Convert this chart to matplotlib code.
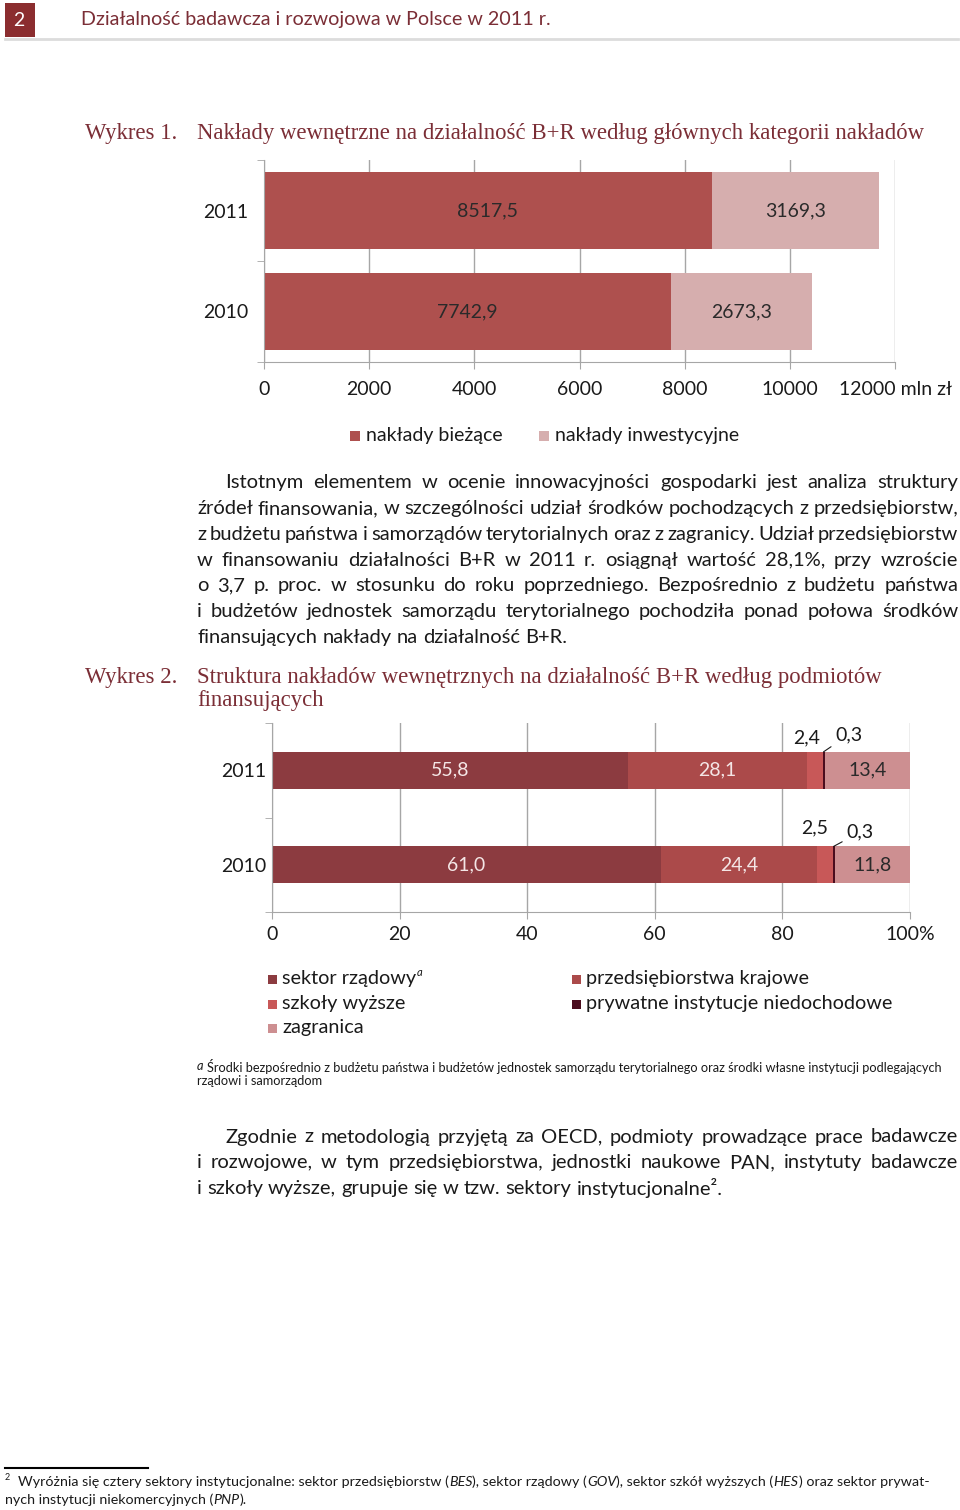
import matplotlib
matplotlib.use('agg')
from matplotlib import pyplot as plt
import matplotlib.patches as mpatches
import numpy as np

plt.rcParams['font.family'] = ['Lato', 'DejaVu Sans']

W, H = 960, 1510

# wykres 1 - nakłady wg kategorii (mln zł)
years = ['2010', '2011']
biezace = [7742.9, 8517.5]
inwestycyjne = [2673.3, 3169.3]
x1_ticks = [0, 2000, 4000, 6000, 8000, 10000, 12000]
x1_labels = ['0', '2000', '4000', '6000', '8000', '10000', '12000 mln zł']

# wykres 2 - struktura wg podmiotów finansujących (%)
rzadowy = [61.0, 55.8]
przedsiebiorstwa = [24.4, 28.1]
szkoly = [2.5, 2.4]
prywatne = [0.3, 0.3]
zagranica = [11.8, 13.4]
x2_ticks = [0, 20, 40, 60, 80, 100]
x2_labels = ['0', '20', '40', '60', '80', '100%']

# colors
MAROON = '#8b2d2f'
TITLE_C = '#7b2e36'
TXT = '#1a1a1a'
GRID = '#a6a6a6'
C_BIEZ = '#ae504e'
C_INW = '#d6aeae'
C_RZAD = '#8c3b40'
C_PRZ = '#ab4a4a'
C_SZK = '#c85858'
C_PRYW = '#4b0d1e'
C_ZAGR = '#cd8f91'


def fx(x):
    return x / W


def fy(y):
    return 1 - y / H


def fmt(v):
    return f"{v:.1f}".replace('.', ',')


fig = plt.figure(figsize=(W / 100, H / 100), dpi=100)
renderer = fig.canvas.get_renderer()


def put(x, y, s, **kw):
    kw.setdefault('va', 'center')
    kw.setdefault('color', TXT)
    return fig.text(fx(x), fy(y), s, **kw)


def width_of(t):
    return t.get_window_extent(renderer).width


def space_width(size, style='normal'):
    t1 = put(0, -100, 'a a', fontsize=size, style=style)
    t2 = put(0, -100, 'aa', fontsize=size, style=style)
    sp = width_of(t1) - width_of(t2)
    t1.remove()
    t2.remove()
    return sp


def runs(x, y, parts, size):
    # parts: list of (text, style), drawn one after another
    for s, st in parts:
        t = put(x, y, s, fontsize=size, style=st)
        x += width_of(t)
        if s.endswith(' '):
            x += space_width(size, st)


def paragraph(lines, y0, dy, size, x0=197, x1=958, indent=28):
    space = space_width(size)
    for i, line in enumerate(lines):
        words = line.split()
        start = x0 + (indent if i == 0 else 0)
        objs = [put(0, y0 + i * dy, w, fontsize=size) for w in words]
        widths = [width_of(o) for o in objs]
        if i == len(lines) - 1 or len(words) == 1:
            gap = space
        else:
            gap = (x1 - start - sum(widths)) / (len(words) - 1)
        x = start
        for o, w in zip(objs, widths):
            o.set_x(fx(x))
            x += w + gap


# header
fig.add_artist(mpatches.Rectangle((fx(5), fy(37)), 30 / W, 34 / H, transform=fig.transFigure,
                                  color=MAROON, lw=0))
put(19, 20, '2', fontsize=14, color='white', ha='center')
put(81, 20, 'Działalność badawcza i rozwojowa w Polsce w 2011 r.', fontsize=14.2, color=TITLE_C)
fig.add_artist(plt.Line2D([fx(5), fx(958)], [fy(39), fy(39)], transform=fig.transFigure,
                          color='#dcdcdc', lw=2))

# wykres 1 title
put(85, 133, 'Wykres 1.', fontsize=16.4, family='Liberation Serif', color=TITLE_C)
put(197, 133, 'Nakłady wewnętrzne na działalność B+R według głównych kategorii nakładów',
    fontsize=16.4, family='Liberation Serif', color=TITLE_C)

# chart 1
ax1 = fig.add_axes([fx(264), fy(362), (895 - 264) / W, (362 - 160) / H])
ypos = np.arange(len(years))
ax1.barh(ypos, biezace, height=0.76, color=C_BIEZ, zorder=2)
ax1.barh(ypos, inwestycyjne, left=biezace, height=0.76, color=C_INW, zorder=2)
for y, b, i in zip(ypos, biezace, inwestycyjne):
    ax1.text(b / 2, y, fmt(b), ha='center', va='center', fontsize=14, color='#2a2a2a', zorder=3)
    ax1.text(b + i / 2, y, fmt(i), ha='center', va='center', fontsize=14, color='#2a2a2a', zorder=3)
ax1.set_xlim(0, 12000)
ax1.set_ylim(-0.5, 1.5)
ax1.set_xticks(x1_ticks)
ax1.set_xticklabels(x1_labels)
ax1.set_yticks(ypos)
ax1.set_yticklabels(years)
ax1.set_yticks([-0.5, 0.5, 1.5], minor=True)
ax1.xaxis.grid(True, color=GRID, lw=1, zorder=0)
ax1.set_axisbelow(True)
for s in ['top', 'right']:
    ax1.spines[s].set_visible(False)
for s in ['left', 'bottom']:
    ax1.spines[s].set_color(GRID)
ax1.tick_params(axis='x', length=5, color=GRID, labelsize=14, pad=9, labelcolor=TXT)
ax1.tick_params(axis='y', which='major', length=0, labelsize=14, pad=11, labelcolor=TXT)
ax1.tick_params(axis='y', which='minor', length=5, color=GRID)

# legend 1
for xs, c, lab in [(350, C_BIEZ, 'nakłady bieżące'), (539, C_INW, 'nakłady inwestycyjne')]:
    fig.add_artist(mpatches.Rectangle((fx(xs), fy(441)), 10 / W, 10 / H, transform=fig.transFigure,
                                      color=c, lw=0))
    put(xs + 16, 436, lab, fontsize=14)

# paragraph 1
par1 = [
    'Istotnym elementem w ocenie innowacyjności gospodarki jest analiza struktury',
    'źródeł finansowania, w szczególności udział środków pochodzących z przedsiębiorstw,',
    'z budżetu państwa i samorządów terytorialnych oraz z zagranicy. Udział przedsiębiorstw',
    'w finansowaniu działalności B+R w 2011 r. osiągnął wartość 28,1%, przy wzroście',
    'o 3,7 p. proc. w stosunku do roku poprzedniego. Bezpośrednio z budżetu państwa',
    'i budżetów jednostek samorządu terytorialnego pochodziła ponad połowa środków',
    'finansujących nakłady na działalność B+R.',
]
paragraph(par1, 483, 25.7, 14.5)

# wykres 2 title
put(85, 677, 'Wykres 2.', fontsize=16.4, family='Liberation Serif', color=TITLE_C)
put(197, 677, 'Struktura nakładów wewnętrznych na działalność B+R według podmiotów',
    fontsize=16.4, family='Liberation Serif', color=TITLE_C)
put(197, 701, 'finansujących', fontsize=16.4, family='Liberation Serif', color=TITLE_C)

# chart 2
ax2 = fig.add_axes([fx(272), fy(912), (910 - 272) / W, (912 - 723) / H])
series = [rzadowy, przedsiebiorstwa, szkoly, prywatne, zagranica]
colors = [C_RZAD, C_PRZ, C_SZK, C_PRYW, C_ZAGR]
bh = 0.39
left = np.zeros(len(years))
lefts = []
for vals, c in zip(series, colors):
    ax2.barh(ypos, vals, left=left, height=bh, color=c, zorder=2)
    lefts.append(left.copy())
    left = left + np.array(vals)

for k, vals in enumerate([rzadowy, przedsiebiorstwa]):
    for y, l, v in zip(ypos, lefts[k], vals):
        ax2.text(l + v / 2, y, fmt(v), ha='center', va='center', fontsize=14, color='#f4e6e6', zorder=3)
for y, l, v in zip(ypos, lefts[4], zagranica):
    ax2.text(l + v / 2, y, fmt(v), ha='center', va='center', fontsize=14, color='#2a2a2a', zorder=3)
# small shares above the bars
for y, l, v, dx, dy in zip(ypos, lefts[2], szkoly, [-10, -8], [18, 14]):
    ax2.annotate(fmt(v), xy=(l + v / 2, y + bh / 2), xytext=(dx, dy), textcoords='offset pixels',
                 ha='center', va='center', fontsize=14, color=TXT)
for y, l, v, dx, dy in zip(ypos, lefts[3], prywatne, [26, 25], [14, 17]):
    ax2.annotate(fmt(v), xy=(l + v / 2, y + bh / 2), xytext=(dx, dy), textcoords='offset pixels',
                 ha='center', va='center', fontsize=14, color=TXT,
                 arrowprops=dict(arrowstyle='-', color=TXT, lw=0.8, shrinkA=1, shrinkB=0))
ax2.set_xlim(0, 100)
ax2.set_ylim(-0.5, 1.5)
ax2.set_xticks(x2_ticks)
ax2.set_xticklabels(x2_labels)
ax2.set_yticks(ypos)
ax2.set_yticklabels(years)
ax2.set_yticks([-0.5, 0.5, 1.5], minor=True)
ax2.xaxis.grid(True, color=GRID, lw=1, zorder=0)
ax2.set_axisbelow(True)
for s in ['top', 'right']:
    ax2.spines[s].set_visible(False)
for s in ['left', 'bottom']:
    ax2.spines[s].set_color(GRID)
ax2.tick_params(axis='x', length=5, color=GRID, labelsize=14, pad=5, labelcolor=TXT)
ax2.tick_params(axis='y', which='major', length=0, labelsize=14, pad=4, labelcolor=TXT)
ax2.tick_params(axis='y', which='minor', length=5, color=GRID)

# legend 2
leg2 = [
    (268, 979, C_RZAD, 'sektor rządowy'),
    (268, 1004, C_SZK, 'szkoły wyższe'),
    (268, 1028, C_ZAGR, 'zagranica'),
    (572, 979, C_PRZ, 'przedsiębiorstwa krajowe'),
    (572, 1004, C_PRYW, 'prywatne instytucje niedochodowe'),
]
for xs, ys, c, lab in leg2:
    fig.add_artist(mpatches.Rectangle((fx(xs), fy(ys + 5)), 9 / W, 9 / H, transform=fig.transFigure,
                                      color=c, lw=0))
    t = put(xs + 14, ys, lab, fontsize=14.3)
    if lab == 'sektor rządowy':
        put(xs + 15 + width_of(t), ys - 6, 'a', fontsize=8, style='italic')

# note a
put(197, 1066, 'a', fontsize=9.2, style='italic')
put(207, 1066, 'Środki bezpośrednio z budżetu państwa i budżetów jednostek samorządu terytorialnego '
    'oraz środki własne instytucji podlegających', fontsize=9.2)
put(197, 1081, 'rządowi i samorządom', fontsize=9.2)

# paragraph 2
par2 = [
    'Zgodnie z metodologią przyjętą za OECD, podmioty prowadzące prace badawcze',
    'i rozwojowe, w tym przedsiębiorstwa, jednostki naukowe PAN, instytuty badawcze',
    'i szkoły wyższe, grupuje się w tzw. sektory instytucjonalne².',
]
paragraph(par2, 1137, 25.7, 14.5)

# footnote
fig.add_artist(plt.Line2D([fx(5), fx(148)], [fy(1468), fy(1468)], transform=fig.transFigure,
                          color='black', lw=1.5))
put(5, 1478, '2', fontsize=6.5)
runs(18, 1482, [('Wyróżnia się cztery sektory instytucjonalne: sektor przedsiębiorstw (', 'normal'),
                ('BES', 'italic'), ('), sektor rządowy (', 'normal'), ('GOV', 'italic'),
                ('), sektor szkół wyższych (', 'normal'), ('HES', 'italic'),
                (') oraz sektor prywat-', 'normal')], 10.3)
runs(5, 1500, [('nych instytucji niekomercyjnych (', 'normal'), ('PNP', 'italic'), (').', 'normal')], 10.3)

fig.savefig('out.png', dpi=100)
